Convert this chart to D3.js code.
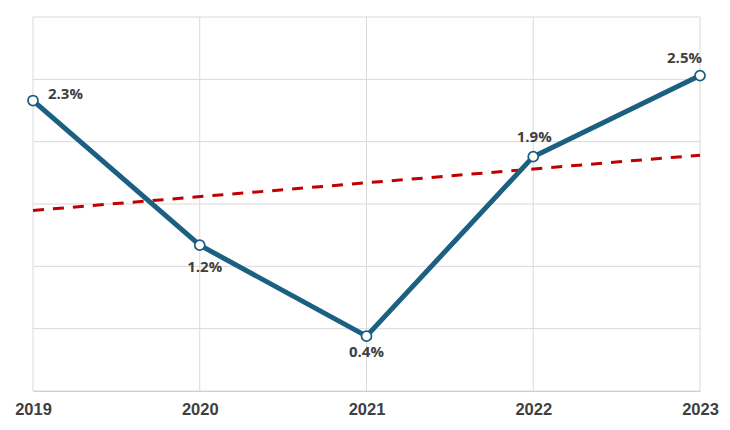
<!DOCTYPE html>
<html>
<head>
<meta charset="utf-8">
<script src="https://cdn.jsdelivr.net/npm/d3@7"></script>
<style>
  html, body { margin: 0; padding: 0; background: #fff; }
  svg { display: block; }
</style>
</head>
<body>
<svg id="chart" width="730" height="430"></svg>
<script>
// ---- data ----
const years = ["2019", "2020", "2021", "2022", "2023"];
const rates = [2.33, 1.17, 0.44, 1.88, 2.53];   // percent
const yTicks = [0, 0.5, 1, 1.5, 2, 2.5, 3];

// ---- layout ----
const W = 730, H = 430;
const margin = { left: 33, right: 30, top: 17, bottom: 39 };
const svg = d3.select("#chart");

const x = d3.scalePoint().domain(years).range([margin.left, W - margin.right]);
const y = d3.scaleLinear().domain([0, 3]).range([H - margin.bottom, margin.top]);

// horizontal gridlines
svg.append("g")
  .selectAll("line").data(yTicks).join("line")
  .attr("x1", margin.left).attr("x2", W - margin.right)
  .attr("y1", d => y(d)).attr("y2", d => y(d))
  .attr("stroke", "#d9d9d9").attr("stroke-width", 1);

// vertical gridlines
svg.append("g")
  .selectAll("line").data(years).join("line")
  .attr("x1", d => x(d)).attr("x2", d => x(d))
  .attr("y1", y(3)).attr("y2", y(0))
  .attr("stroke", "#d9d9d9").attr("stroke-width", 1);

// x axis labels
const xAxis = d3.axisBottom(x).tickSize(0).tickPadding(12);
const gx = svg.append("g").attr("transform", `translate(0,${y(0)})`).call(xAxis);
gx.select(".domain").attr("stroke", "#d0d0d0");
gx.selectAll("text")
  .attr("font-family", "'Liberation Sans', Arial, sans-serif")
  .attr("font-size", 16.5).attr("font-weight", "bold").attr("fill", "#404040");

// linear trend line (least squares on the series)
const idx = rates.map((_, i) => i);
const mx = d3.mean(idx), my = d3.mean(rates);
const slope = d3.sum(idx, i => (i - mx) * (rates[i] - my)) / d3.sum(idx, i => (i - mx) ** 2);
const intercept = my - slope * mx;
const trendPts = [0, years.length - 1].map(i => [x(years[i]), y(intercept + slope * i)]);
svg.append("path")
  .attr("d", d3.line()(trendPts))
  .attr("fill", "none").attr("stroke", "#c00000")
  .attr("stroke-width", 3).attr("stroke-dasharray", "11,9");

// main line
const pts = years.map((yr, i) => [x(yr), y(rates[i])]);
svg.append("path")
  .attr("d", d3.line()(pts))
  .attr("fill", "none").attr("stroke", "#1b6081")
  .attr("stroke-width", 5).attr("stroke-linejoin", "round");

// markers
svg.append("g")
  .selectAll("circle").data(pts).join("circle")
  .attr("cx", d => d[0]).attr("cy", d => d[1]).attr("r", 5)
  .attr("fill", "#fff").attr("stroke", "#1b6081").attr("stroke-width", 1.75);

// data labels
const fmt = d3.format(".1f");
const labelPlace = { "2019": [15, -2, "start"], "2020": [5, 27, "middle"], "2021": [0, 21, "middle"],
                     "2022": [1, -15, "middle"], "2023": [2, -13, "end"] };
svg.append("g")
  .selectAll("text").data(years).join("text")
  .attr("x", (d, i) => pts[i][0] + labelPlace[d][0])
  .attr("y", (d, i) => pts[i][1] + labelPlace[d][1])
  .attr("text-anchor", d => labelPlace[d][2])
  .attr("font-family", "'Open Sans', sans-serif")
  .attr("font-size", 15).attr("font-weight", "bold").attr("fill", "#404040")
  .text((d, i) => fmt(rates[i]) + "%");
</script>
</body>
</html>
